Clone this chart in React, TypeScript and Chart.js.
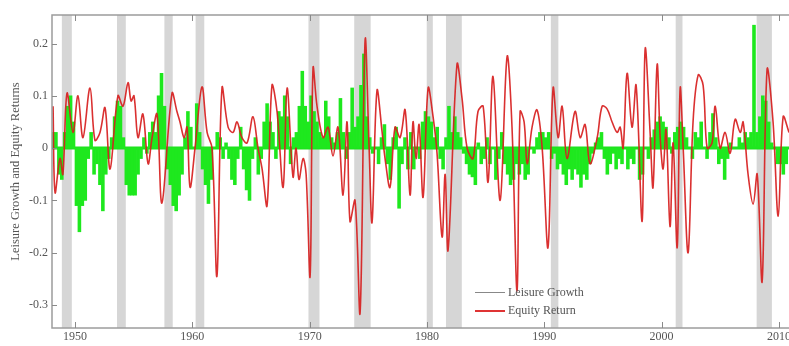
import React, { useEffect, useRef } from "react";
import { Chart, registerables } from "chart.js";

Chart.register(...registerables);

// Quarterly leisure growth, first quarter = 1948 Q1
const leisureStartYear = 1948;
const leisureGrowth = [
  0.03, 0.03, -0.05, -0.06, // 1948
  0.03, 0.08, 0.1, 0.05, // 1949
  -0.11, -0.16, -0.11, -0.1, // 1950
  -0.02, 0.03, -0.05, -0.03, // 1951
  -0.07, -0.12, -0.05, -0.02, // 1952
  0.02, 0.06, 0.09, 0.08, // 1953
  0.02, -0.07, -0.09, -0.09, // 1954
  -0.09, -0.05, -0.02, 0.02, // 1955
  -0.01, 0.03, 0.05, 0.03, // 1956
  0.1, 0.143, 0.08, -0.04, // 1957
  -0.07, -0.11, -0.12, -0.09, // 1958
  -0.05, 0.02, 0.07, 0.04, // 1959
  0.0, 0.085, 0.03, -0.04, // 1960
  -0.07, -0.106, -0.06, 0.0, // 1961
  0.03, 0.02, -0.02, 0.01, // 1962
  -0.02, -0.06, -0.07, -0.02, // 1963
  0.04, -0.04, -0.08, -0.1, // 1964
  -0.02, 0.02, -0.05, -0.02, // 1965
  0.05, 0.085, 0.05, 0.03, // 1966
  -0.02, 0.07, 0.06, 0.1, // 1967
  0.06, -0.03, 0.02, 0.03, // 1968
  0.08, 0.147, 0.08, 0.05, // 1969
  0.1, 0.07, 0.05, 0.03, // 1970
  0.02, 0.09, 0.06, 0.02, // 1971
  0.01, 0.03, 0.095, 0.03, // 1972
  -0.02, 0.03, 0.115, 0.04, // 1973
  0.06, 0.12, 0.18, 0.06, // 1974
  0.02, -0.01, 0.0, -0.03, // 1975
  0.02, 0.045, -0.03, -0.06, // 1976
  0.02, 0.04, -0.115, -0.03, // 1977
  0.02, -0.04, 0.03, -0.04, // 1978
  0.0, -0.02, 0.05, 0.07, // 1979
  0.06, 0.05, 0.02, 0.04, // 1980
  -0.02, -0.04, 0.02, 0.08, // 1981
  0.03, 0.06, 0.03, 0.02, // 1982
  -0.01, -0.03, -0.05, -0.055, // 1983
  -0.07, 0.01, -0.03, -0.02, // 1984
  0.02, -0.03, 0.0, -0.06, // 1985
  -0.02, 0.03, -0.03, -0.05, // 1986
  -0.07, -0.06, -0.03, -0.05, // 1987
  -0.03, -0.06, -0.05, 0.0, // 1988
  -0.01, 0.02, 0.03, 0.03, // 1989
  0.02, 0.03, -0.02, -0.01, // 1990
  -0.04, -0.03, -0.05, -0.07, // 1991
  -0.04, -0.06, -0.04, -0.05, // 1992
  -0.075, -0.05, -0.06, -0.03, // 1993
  -0.01, 0.01, 0.02, 0.03, // 1994
  -0.02, -0.05, -0.03, -0.01, // 1995
  -0.04, -0.02, -0.03, 0.0, // 1996
  -0.04, -0.02, -0.03, 0.0, // 1997
  -0.06, -0.05, 0.0, -0.02, // 1998
  0.02, 0.035, 0.05, 0.06, // 1999
  0.05, 0.04, 0.02, -0.01, // 2000
  0.03, 0.04, 0.05, 0.04, // 2001
  0.02, 0.0, -0.02, 0.03, // 2002
  0.02, 0.05, 0.0, -0.02, // 2003
  0.03, 0.066, 0.02, -0.03, // 2004
  -0.02, -0.06, -0.02, 0.01, // 2005
  0.0, 0.0, 0.02, 0.01, // 2006
  0.03, 0.02, 0.03, 0.235, // 2007
  0.03, 0.06, 0.1, 0.09, // 2008
  0.05, 0.01, 0.0, -0.03, // 2009
  -0.03, -0.05, -0.03, // 2010
];

const equityYears = [
  1948.13, 1948.3, 1948.72, 1948.97, 1949.32, 1949.83, 1950.25, 1950.68, 1951.28, 1951.7,
  1952.13, 1952.56, 1952.99, 1953.66, 1954.09, 1954.52, 1954.78, 1955.03, 1955.37, 1955.79,
  1956.23, 1956.57, 1956.99, 1957.41, 1958.27, 1958.69, 1958.95, 1959.3, 1959.55, 1959.81,
  1960.23, 1960.82, 1961.26, 1961.68, 1962.1, 1962.53, 1963.05, 1963.47, 1963.81, 1964.23,
  1964.67, 1965.17, 1965.6, 1965.95, 1966.37, 1966.79, 1967.22, 1967.74, 1968.08, 1968.58,
  1968.84, 1969.09, 1969.44, 1969.7, 1970.04, 1970.29, 1970.63, 1971.15, 1971.57, 1971.99,
  1972.42, 1972.85, 1973.19, 1973.44, 1973.87, 1974.3, 1974.73, 1975.07, 1975.32, 1975.74,
  1976.18, 1976.43, 1976.85, 1977.28, 1977.71, 1978.14, 1978.56, 1978.81, 1979.07, 1979.33,
  1979.67, 1980.1, 1980.52, 1980.86, 1981.29, 1981.55, 1981.8, 1982.56, 1982.99, 1983.42,
  1983.93, 1984.35, 1984.79, 1985.21, 1985.63, 1986.24, 1986.83, 1987.25, 1987.68, 1987.94,
  1988.28, 1988.54, 1988.96, 1989.38, 1989.82, 1990.32, 1990.75, 1991.18, 1991.52, 1991.94,
  1992.62, 1993.06, 1993.48, 1993.9, 1994.51, 1994.93, 1995.35, 1995.78, 1996.21, 1996.47,
  1996.72, 1997.06, 1997.48, 1997.83, 1998.34, 1998.6, 1999.02, 1999.27, 1999.62, 1999.88,
  2000.13, 2000.38, 2000.72, 2000.98, 2001.33, 2001.58, 2001.84, 2002.26, 2002.68, 2003.12,
  2003.54, 2003.88, 2004.3, 2004.57, 2004.99, 2005.41, 2005.84, 2006.27, 2006.7, 2006.95,
  2007.37, 2007.8, 2008.15, 2008.57, 2008.99, 2009.5, 2009.94, 2010.36, 2010.86,
];
const equityReturns = [
  0.08, -0.085, -0.02, -0.05, 0.105, 0.03, 0.1, 0.02, 0.115, 0.015,
  0.03, 0.077, -0.04, 0.1, 0.08, 0.125, 0.09, 0.1, 0.02, 0.065,
  -0.03, 0.02, 0.065, -0.105, 0.105, 0.07, 0.05, 0.02, 0.04, -0.075,
  0.0, 0.117, 0.03, 0.0, -0.245, 0.115, 0.04, 0.03, 0.05, 0.02,
  0.01, 0.06, 0.0, -0.04, -0.11, 0.12, 0.07, -0.075, 0.115, -0.055,
  0.0, -0.06, -0.02, -0.05, -0.245, 0.153, 0.08, 0.02, 0.04, -0.015,
  0.04, -0.09, 0.05, -0.14, -0.1, -0.315, 0.207, 0.0, -0.142, 0.11,
  0.03, -0.02, -0.075, 0.04, 0.02, 0.073, -0.09, 0.05, -0.02, 0.045,
  -0.094, 0.115, 0.06, -0.01, -0.17, -0.05, -0.195, 0.16, 0.095, 0.0,
  -0.02, 0.07, 0.08, -0.065, 0.137, -0.1, 0.175, 0.04, -0.273, 0.07,
  0.05, -0.03, 0.04, 0.073, 0.0, -0.19, 0.115, 0.02, 0.08, -0.02,
  0.07, 0.02, 0.045, -0.03, 0.02, 0.08, 0.075, 0.05, 0.03, 0.04,
  0.0, 0.143, 0.04, 0.12, -0.14, 0.19, 0.03, -0.075, 0.16, 0.02,
  -0.04, 0.035, -0.15, 0.01, -0.19, 0.115, 0.0, -0.2, 0.05, 0.14,
  0.12, 0.0, 0.01, 0.08, 0.0, 0.03, -0.01, 0.055, 0.03, 0.05,
  -0.05, -0.107, -0.05, -0.255, 0.15, 0.05, -0.13, 0.06, 0.03,
];

const recessionStarts = [1948.88, 1953.58, 1957.62, 1960.28, 1969.9, 1973.8, 1979.98, 1981.62, 1990.56, 2001.2, 2008.1];
const recessionEnds = [1949.73, 1954.33, 1958.33, 1961.02, 1970.84, 1975.2, 1980.5, 1982.97, 1991.2, 2001.78, 2009.4];

const xTicks = [1950, 1960, 1970, 1980, 1990, 2000, 2010];
const yTicks = [-0.3, -0.2, -0.1, 0, 0.1, 0.2];

const seriesNames = ["Leisure Growth", "Equity Return"];
const yTitle = "Leisure Growth and Equity Returns";

const FONT = "'Liberation Serif', 'Times New Roman', serif";
const TEXT = "#555";

const decorPlugin = {
  id: "decor",
  beforeDatasetsDraw(chart: any) {
    const { ctx, chartArea: a, scales } = chart;
    const x = scales.x, y = scales.y;
    ctx.save();
    ctx.fillStyle = "rgb(214,214,214)";
    recessionStarts.forEach((s, i) => {
      const x0 = x.getPixelForValue(s);
      const x1 = x.getPixelForValue(recessionEnds[i]);
      ctx.fillRect(x0, a.top, x1 - x0, a.bottom - a.top);
    });
    const y0 = y.getPixelForValue(0);
    ctx.strokeStyle = "rgb(30,225,30)";
    ctx.lineWidth = 3;
    ctx.beginPath();
    ctx.moveTo(a.left, y0);
    ctx.lineTo(a.right, y0);
    ctx.stroke();
    ctx.restore();
  },
  afterDraw(chart: any) {
    const { ctx, chartArea: a, scales } = chart;
    const x = scales.x, y = scales.y;
    ctx.save();
    ctx.strokeStyle = "#9c9c9c";
    ctx.lineWidth = 1.5;
    ctx.strokeRect(a.left, a.top, a.right - a.left, a.bottom - a.top);
    ctx.strokeStyle = "#8a8a8a";
    ctx.lineWidth = 1;
    xTicks.forEach((v) => {
      const px = Math.round(x.getPixelForValue(v)) + 0.5;
      ctx.beginPath();
      ctx.moveTo(px, a.bottom);
      ctx.lineTo(px, a.bottom - 6);
      ctx.moveTo(px, a.top);
      ctx.lineTo(px, a.top + 6);
      ctx.stroke();
    });
    yTicks.forEach((v) => {
      const py = Math.round(y.getPixelForValue(v)) + 0.5;
      ctx.beginPath();
      ctx.moveTo(a.left, py);
      ctx.lineTo(a.left + 5, py);
      ctx.stroke();
    });
    const ds = chart.data.datasets;
    const items = [
      { label: ds[1].label, color: "#888", width: 1 },
      { label: ds[0].label, color: "rgb(220,30,30)", width: 1.8 },
    ];
    ctx.font = `12px ${FONT}`;
    ctx.textBaseline = "middle";
    ctx.textAlign = "left";
    items.forEach((it, i) => {
      const ly = 292.5 + i * 18.5;
      ctx.strokeStyle = it.color;
      ctx.lineWidth = it.width;
      ctx.beginPath();
      ctx.moveTo(475, ly);
      ctx.lineTo(505, ly);
      ctx.stroke();
      ctx.fillStyle = TEXT;
      ctx.fillText(it.label, 508, ly);
    });
    ctx.restore();
  },
};

export default function App() {
  const ref = useRef<HTMLCanvasElement | null>(null);

  useEffect(() => {
    document.body.style.margin = "0";
    document.body.style.overflow = "hidden";
    const canvas = ref.current;
    if (!canvas) return;

    const leisurePoints = leisureGrowth.map((v, i) => ({ x: leisureStartYear + 0.125 + i * 0.25, y: v }));
    const equityPoints = equityYears.map((yr, i) => ({ x: yr, y: equityReturns[i] }));

    const chart = new Chart(canvas, {
      type: "bar",
      data: {
        datasets: [
          {
            type: "line",
            label: seriesNames[1],
            data: equityPoints,
            borderColor: "rgba(215,30,30,0.92)",
            borderWidth: 1.6,
            pointRadius: 0,
            tension: 0.35,
            fill: false,
            order: 0,
          } as any,
          {
            type: "bar",
            label: seriesNames[0],
            data: leisurePoints,
            backgroundColor: "rgb(30,232,30)",
            borderWidth: 0,
            barPercentage: 1,
            categoryPercentage: 1,
            order: 1,
          } as any,
        ],
      },
      options: {
        animation: false,
        responsive: false,
        maintainAspectRatio: false,
        layout: { padding: { top: 15, left: 0, right: 37, bottom: 0 } },
        plugins: { legend: { display: false }, tooltip: { enabled: false } },
        scales: {
          x: {
            type: "linear",
            min: 1948.04,
            max: 2011.2,
            offset: false,
            grid: { display: false, drawTicks: false },
            border: { display: false },
            afterBuildTicks: (s: any) => {
              s.ticks = xTicks.map((v) => ({ value: v }));
            },
            afterFit: (s: any) => {
              s.height = 18;
            },
            ticks: {
              color: TEXT,
              font: { family: FONT, size: 12 },
              padding: 2,
              maxRotation: 0,
              autoSkip: false,
              callback: (v: any) => String(v),
            },
          },
          y: {
            type: "linear",
            min: -0.344,
            max: 0.2545,
            grid: { display: false, drawTicks: false },
            border: { display: false },
            afterBuildTicks: (s: any) => {
              s.ticks = yTicks.map((v) => ({ value: v }));
            },
            afterFit: (s: any) => {
              s.width = 52;
            },
            ticks: {
              color: TEXT,
              font: { family: FONT, size: 12 },
              padding: 4,
              autoSkip: false,
              callback: (v: any) => String(v),
            },
            title: {
              display: true,
              text: yTitle,
              color: TEXT,
              font: { family: FONT, size: 12.5 },
              padding: { top: 8, bottom: 0 },
            },
          },
        },
      },
      plugins: [decorPlugin],
    });
    return () => chart.destroy();
  }, []);

  return (
    <div style={{ width: 830, height: 346 }}>
      <canvas ref={ref} width={830} height={346} style={{ display: "block" }} />
    </div>
  );
}
